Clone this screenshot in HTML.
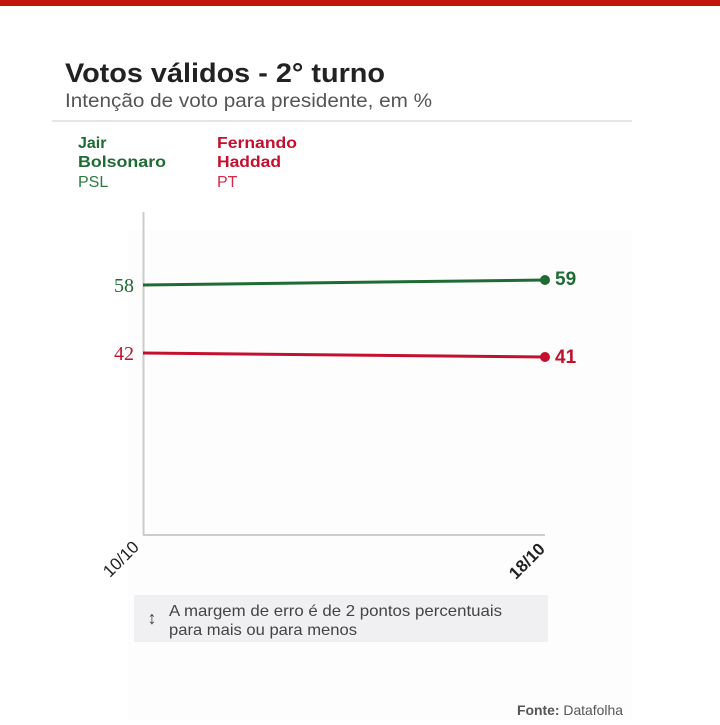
<!DOCTYPE html>
<html><head><meta charset="utf-8"><style>
body{margin:0;width:720px;height:720px;background:#fff;overflow:hidden;font-family:"Liberation Sans",sans-serif}
</style></head><body>
<svg width="720" height="720" xmlns="http://www.w3.org/2000/svg" font-family="Liberation Sans, sans-serif">
<rect x="0" y="0" width="720" height="6" fill="#c0140c"/>
<rect x="128" y="230" width="504" height="490" fill="#fefdfe"/>
<text x="65" y="82" font-size="27" font-weight="bold" fill="#222" textLength="320" lengthAdjust="spacingAndGlyphs">Votos válidos - 2° turno</text>
<text x="65" y="107" font-size="19" fill="#555" textLength="367" lengthAdjust="spacingAndGlyphs">Intenção de voto para presidente, em %</text>
<rect x="52" y="120" width="580" height="2" fill="#e6e6e6"/>
<g font-size="16" font-weight="bold">
<text x="78" y="148" fill="#1e6b34">Jair</text>
<text x="78" y="167" fill="#1e6b34" textLength="88" lengthAdjust="spacingAndGlyphs">Bolsonaro</text>
<text x="217" y="148" fill="#c3102f" textLength="80" lengthAdjust="spacingAndGlyphs">Fernando</text>
<text x="217" y="167" fill="#c3102f" textLength="64" lengthAdjust="spacingAndGlyphs">Haddad</text>
</g>
<text x="78" y="187" font-size="16" fill="#2a7a40">PSL</text>
<text x="217" y="187" font-size="16" fill="#d02a4a">PT</text>
<line x1="143.5" y1="212" x2="143.5" y2="535" stroke="#ccc" stroke-width="2"/>
<line x1="143" y1="535" x2="545" y2="535" stroke="#ccc" stroke-width="2"/>
<line x1="143" y1="285" x2="545" y2="280" stroke="#1e6b34" stroke-width="3"/>
<line x1="143" y1="353" x2="545" y2="357" stroke="#c3102f" stroke-width="3"/>
<circle cx="545" cy="280" r="5" fill="#1e6b34"/>
<circle cx="545" cy="357" r="5" fill="#c3102f"/>
<text x="134" y="292" text-anchor="end" font-size="20" fill="#1e6b34" font-family="Liberation Serif, serif">58</text>
<text x="134" y="360" text-anchor="end" font-size="20" fill="#c3102f" font-family="Liberation Serif, serif">42</text>
<text x="555" y="285" font-size="19" font-weight="bold" fill="#1e6b34">59</text>
<text x="555" y="363" font-size="19" font-weight="bold" fill="#c3102f">41</text>
<text transform="translate(140,548) rotate(-45)" text-anchor="end" font-size="17" fill="#222">10/10</text>
<text transform="translate(546,550) rotate(-45)" text-anchor="end" font-size="17" font-weight="bold" fill="#222">18/10</text>
<rect x="134" y="595" width="414" height="47" fill="#f0eff1"/>
<text x="152" y="624" text-anchor="middle" font-size="18" fill="#444">↕</text>
<text x="169" y="616" font-size="16" fill="#444" textLength="333" lengthAdjust="spacingAndGlyphs">A margem de erro é de 2 pontos percentuais</text>
<text x="169" y="635" font-size="16" fill="#444" textLength="188" lengthAdjust="spacingAndGlyphs">para mais ou para menos</text>
<text x="517" y="715" font-size="14" fill="#555" textLength="106" lengthAdjust="spacingAndGlyphs"><tspan font-weight="bold">Fonte:</tspan> Datafolha</text>
</svg>
</body></html>
